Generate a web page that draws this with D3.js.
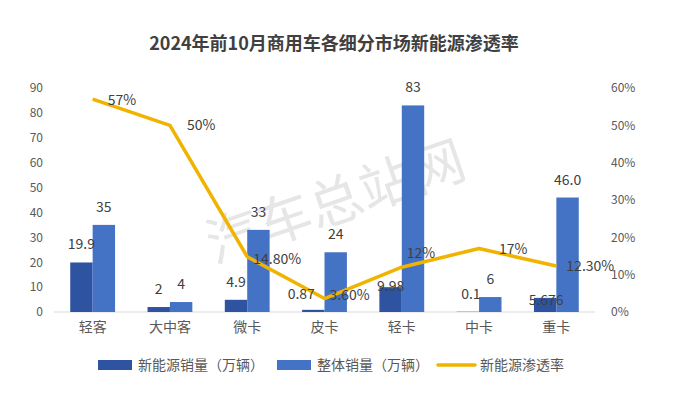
<!DOCTYPE html>
<html>
<head>
<meta charset="utf-8">
<script src="https://cdn.jsdelivr.net/npm/d3@7"></script>
<style>
  body { margin: 0; background: #fff; }
  text { font-family: "Noto Sans CJK SC", "Noto Sans", sans-serif; }
</style>
</head>
<body>
<svg width="673" height="404"></svg>
<script>
// data
const categories = ["轻客", "大中客", "微卡", "皮卡", "轻卡", "中卡", "重卡"];
const nevSales = [19.9, 2, 4.9, 0.87, 9.98, 0.1, 5.676];      // 新能源销量（万辆）
const totalSales = [35, 4, 33, 24, 83, 6, 46.0];               // 整体销量（万辆）
const totalLabels = ["35", "4", "33", "24", "83", "6", "46.0"];
const penetration = [0.57, 0.50, 0.148, 0.036, 0.12, 0.17, 0.123]; // 新能源渗透率
const penLabels = ["57%", "50%", "14.80%", "3.60%", "12%", "17%", "12.30%"];
const leftTicks = [0, 10, 20, 30, 40, 50, 60, 70, 80, 90];
const rightTicks = [0, 0.1, 0.2, 0.3, 0.4, 0.5, 0.6];

const margin = {top: 88, right: 78, bottom: 92, left: 54};
const W = 673, H = 404;
const width = W - margin.left - margin.right;
const height = H - margin.top - margin.bottom;

const colDark = "#2E54A1", colLight = "#4472C4", colLine = "#F0B400";
const textCol = "#404040", tickCol = "#595959";

const svg = d3.select("svg");
const g = svg.append("g").attr("transform", "translate(" + margin.left + "," + margin.top + ")");

// title
svg.append("text")
  .attr("x", 334).attr("y", 50)
  .attr("text-anchor", "middle")
  .attr("font-size", 18).attr("font-weight", "bold")
  .attr("fill", textCol)
  .text("2024年前10月商用车各细分市场新能源渗透率");

// watermark, behind the marks
g.append("text")
  .attr("transform", "translate(283,118) rotate(-19)")
  .attr("text-anchor", "middle")
  .attr("dominant-baseline", "middle")
  .attr("font-size", 54)
  .attr("fill", "#e6e6e6")
  .text("汽车总站网");

const x0 = d3.scaleBand().domain(categories).range([0, width]).paddingInner(0.42).paddingOuter(0.21);
const x1 = d3.scaleBand().domain([0, 1]).range([0, x0.bandwidth()]);
const y = d3.scaleLinear().domain([0, 90]).range([height, 0]);
const y2 = d3.scaleLinear().domain([0, 0.6]).range([height, 0]);

// left axis (labels only)
const yAxis = d3.axisLeft(y).tickValues(leftTicks).tickSize(0).tickPadding(11);
const yG = g.append("g").call(yAxis);
yG.select(".domain").remove();
yG.selectAll("text").attr("font-size", 12).attr("fill", tickCol);

const y2Axis = d3.axisRight(y2).tickValues(rightTicks).tickSize(0).tickPadding(16).tickFormat(d3.format(".0%"));
const y2G = g.append("g").attr("transform", "translate(" + width + ",0)").call(y2Axis);
y2G.select(".domain").remove();
y2G.selectAll("text").attr("font-size", 12).attr("fill", tickCol);

// baseline
g.append("line").attr("x1", 0).attr("x2", width).attr("y1", height).attr("y2", height)
  .attr("stroke", "#d9d9d9").attr("stroke-width", 1);

// x labels
const xAxis = d3.axisBottom(x0).tickSize(0).tickPadding(10);
const xG = g.append("g").attr("transform", "translate(0," + height + ")").call(xAxis);
xG.select(".domain").remove();
xG.selectAll("text").attr("font-size", 14).attr("fill", tickCol);

// bars
const rows = categories.map((c, i) => ({c: c, nev: nevSales[i], tot: totalSales[i], totL: totalLabels[i], pen: penetration[i], penL: penLabels[i]}));

g.selectAll(".bar-nev").data(rows).enter().append("rect")
  .attr("x", d => x0(d.c) + x1(0))
  .attr("y", d => y(d.nev))
  .attr("width", x1.bandwidth())
  .attr("height", d => height - y(d.nev))
  .attr("fill", colDark);

g.selectAll(".bar-tot").data(rows).enter().append("rect")
  .attr("x", d => x0(d.c) + x1(1))
  .attr("y", d => y(d.tot))
  .attr("width", x1.bandwidth())
  .attr("height", d => height - y(d.tot))
  .attr("fill", colLight);

// line
const line = d3.line().x(d => x0(d.c) + x0.bandwidth() / 2).y(d => y2(d.pen));
g.append("path").datum(rows)
  .attr("d", line)
  .attr("fill", "none")
  .attr("stroke", colLine)
  .attr("stroke-width", 3.5)
  .attr("stroke-linejoin", "round");

// label nudges (hand placed in the original)
const nevNudge = [[0, 0], [0, 0], [0, 0], [-12, 2], [0, 17], [3, 0], [1, 20]];
const penNudge = [[15, 1], [17, 0], [6, 2], [5, -4], [5, -14], [20, 0], [10, 0]];

g.selectAll(".lab-nev").data(rows).enter().append("text")
  .attr("x", (d, i) => x0(d.c) + x1(0) + x1.bandwidth() / 2 + nevNudge[i][0])
  .attr("y", (d, i) => y(d.nev) - 13 + nevNudge[i][1])
  .attr("text-anchor", "middle")
  .attr("font-size", 14).attr("fill", textCol)
  .text(d => d.nev);

g.selectAll(".lab-tot").data(rows).enter().append("text")
  .attr("x", d => x0(d.c) + x1(1) + x1.bandwidth() / 2)
  .attr("y", d => y(d.tot) - 13)
  .attr("text-anchor", "middle")
  .attr("font-size", 14).attr("fill", textCol)
  .text(d => d.totL);

g.selectAll(".lab-pen").data(rows).enter().append("text")
  .attr("x", (d, i) => x0(d.c) + x0.bandwidth() / 2 + penNudge[i][0])
  .attr("y", (d, i) => y2(d.pen) + penNudge[i][1] + 5)
  .attr("font-size", 14).attr("fill", textCol)
  .text(d => d.penL);

// legend
const legend = svg.append("g").attr("transform", "translate(0,365)");
const items = [
  {name: "新能源销量（万辆）", type: "rect", color: colDark, x: 98},
  {name: "整体销量（万辆）", type: "rect", color: colLight, x: 277},
  {name: "新能源渗透率", type: "line", color: colLine, x: 438}
];
items.forEach(it => {
  if (it.type === "rect") {
    legend.append("rect").attr("x", it.x).attr("y", -5).attr("width", 34).attr("height", 10).attr("fill", it.color);
  } else {
    legend.append("line").attr("x1", it.x).attr("x2", it.x + 37).attr("y1", 0).attr("y2", 0)
      .attr("stroke", it.color).attr("stroke-width", 3.5).attr("stroke-linecap", "round");
  }
  legend.append("text").attr("x", it.x + (it.type === "rect" ? 40 : 42)).attr("y", 5)
    .attr("font-size", 14).attr("fill", tickCol).text(it.name);
});
</script>
</body>
</html>
